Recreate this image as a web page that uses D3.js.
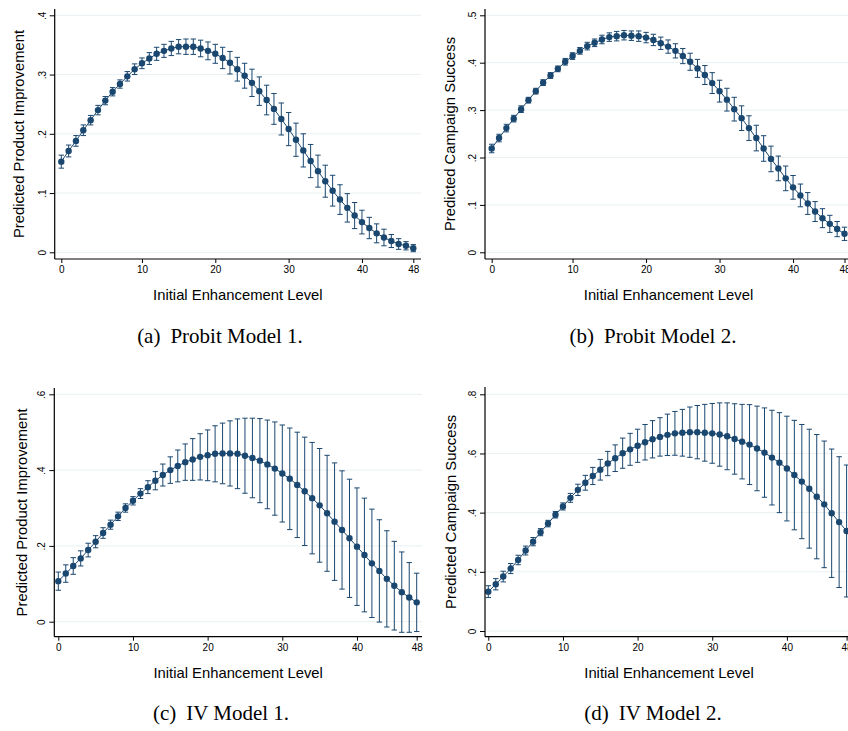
<!DOCTYPE html>
<html>
<head>
<meta charset="utf-8">
<script src="https://cdn.jsdelivr.net/npm/d3@7"></script>
<style>
  body { margin: 0; background: #fff; }
  svg { display: block; }
</style>
</head>
<body>
<svg id="chart" width="848" height="731"></svg>
<script>
// enhancement levels (x)
const levels = [0,1,2,3,4,5,6,7,8,9,10,11,12,13,14,15,16,17,18,19,20,21,22,23,24,
  25,26,27,28,29,30,31,32,33,34,35,36,37,38,39,40,41,42,43,44,45,46,47,48];

// (a) Probit Model 1 - predicted product improvement and CI half width
const probit1 = [.153,.171,.188,.206,.223,.240,.256,.271,.284,.297,.309,.319,.327,.335,.340,.344,.347,.347,.347,.344,
  .340,.335,.328,.320,.309,.298,.286,.272,.257,.242,.225,.208,.190,.172,.154,.137,.120,.104,.089,.075,
  .062,.051,.041,.032,.025,.019,.014,.011,.007];
const probit1Ci = [.011,.010,.009,.009,.008,.008,.007,.007,.007,.008,.009,.009,.010,.011,.011,.012,.012,.013,.013,.014,
  .015,.016,.018,.019,.020,.021,.023,.024,.025,.026,.027,.028,.028,.028,.028,.027,.027,.026,.025,.024,
  .022,.020,.018,.016,.014,.011,.009,.007,.006];

// (b) Probit Model 2 - predicted campaign success
const probit2 = [.219,.241,.262,.282,.302,.321,.340,.358,.373,.387,.402,.414,.425,.435,.442,.449,.454,.456,.458,.457,
  .456,.453,.448,.441,.434,.425,.414,.402,.388,.374,.357,.340,.322,.302,.283,.262,.241,.219,.197,.177,
  .156,.137,.120,.103,.086,.072,.060,.049,.039];
const probit2Ci = [.009,.008,.008,.007,.007,.006,.006,.006,.006,.006,.007,.007,.007,.008,.008,.009,.009,.010,.010,.010,
  .011,.011,.012,.013,.014,.015,.016,.018,.019,.020,.022,.023,.024,.025,.026,.026,.027,.027,.027,.026,
  .026,.025,.024,.023,.021,.020,.018,.016,.014];

// (c) IV Model 1 - predicted product improvement
const iv1 = [.107,.127,.147,.167,.189,.211,.234,.256,.278,.300,.319,.338,.355,.372,.387,.400,.411,.421,.428,.435,
  .439,.443,.444,.444,.443,.438,.432,.425,.415,.404,.391,.377,.361,.344,.326,.307,.286,.264,.242,.220,
  .198,.176,.154,.134,.113,.095,.078,.064,.051];
const iv1Ci = [.024,.023,.022,.020,.018,.016,.014,.012,.011,.011,.011,.013,.017,.024,.029,.035,.042,.048,.055,.061,
  .067,.074,.080,.086,.092,.099,.105,.111,.117,.123,.128,.134,.139,.143,.147,.150,.153,.155,.156,.156,
  .155,.150,.143,.135,.127,.117,.106,.092,.077];

// (d) IV Model 2 - predicted campaign success
const iv2 = [.133,.158,.184,.211,.240,.272,.302,.334,.363,.393,.421,.450,.477,.501,.524,.545,.566,.584,.601,.614,
  .626,.638,.648,.656,.663,.668,.670,.672,.672,.670,.668,.664,.658,.649,.640,.630,.617,.603,.586,.569,
  .549,.527,.505,.481,.454,.428,.398,.368,.338];
const iv2Ci = [.020,.019,.018,.017,.016,.015,.014,.012,.011,.011,.012,.015,.019,.025,.029,.035,.041,.045,.051,.054,
  .056,.060,.063,.065,.070,.074,.079,.085,.090,.096,.101,.107,.113,.119,.126,.135,.143,.151,.160,.169,
  .177,.185,.193,.201,.210,.214,.217,.221,.223];

// tick labels
const xTickLabels = [0, 10, 20, 30, 40, 48];
const xTickPosProbit = [0, 11, 21, 31, 41, 48];
const xTickPosIv = [0, 10, 20, 30, 40, 48];
const yTicksA = [0, .1, .2, .3, .4];
const yTicksB = [0, .1, .2, .3, .4, .5];
const yTicksC = [0, .2, .4, .6];
const yTicksD = [0, .2, .4, .6, .8];

const xTitle = "Initial Enhancement Level";
const captions = ["(a)", "(b)", "(c)", "(d)"];
const captionTexts = ["Probit Model 1.", "Probit Model 2.", "IV Model 1.", "IV Model 2."];

const navy = "#1a476f";
const gridColor = "#e9f0f2";
const sans = "'Liberation Sans', Arial, sans-serif";

const panels = [
  { values: probit1, ci: probit1Ci, yTicks: yTicksA, ymax: .4, xTicks: xTickPosProbit,
    ytitle: "Predicted Product Improvement",
    px: [61.3, 413.3], py: [252.3, 15.3], box: { l: 54.7, r: 421, t: 9, b: 259 },
    ytx: 19, capX: 220, capY: 343 },
  { values: probit2, ci: probit2Ci, yTicks: yTicksB, ymax: .5, xTicks: xTickPosProbit,
    ytitle: "Predicted Campaign Success",
    px: [491.7, 844.5], py: [252.3, 15.3], box: { l: 485, r: 852, t: 9, b: 259 },
    ytx: 449.5, capX: 653, capY: 343 },
  { values: iv1, ci: iv1Ci, yTicks: yTicksC, ymax: .6, xTicks: xTickPosIv,
    ytitle: "Predicted Product Improvement",
    px: [58.3, 416.7], py: [621.7, 394.3], box: { l: 54.3, r: 422, t: 388, b: 636.7 },
    ytx: 22, capX: 221, capY: 720 },
  { values: iv2, ci: iv2Ci, yTicks: yTicksD, ymax: .8, xTicks: xTickPosIv,
    ytitle: "Predicted Campaign Success",
    px: [488.3, 846.6], py: [631, 394.3], box: { l: 485, r: 853, t: 387, b: 636.7 },
    ytx: 450.5, capX: 653, capY: 720 }
];

const svg = d3.select("#chart");
const fmtY = d => d === 0 ? "0" : d3.format(".1f")(d).replace(/^0/, "");

panels.forEach((p, k) => {
  const x = d3.scaleLinear().domain([0, 48]).range(p.px);
  const y = d3.scaleLinear().domain([0, p.ymax]).range(p.py);
  const g = svg.append("g");
  const pts = levels.map((lv, i) => ({ lv, v: p.values[i], e: p.ci[i] }));

  // gridlines
  g.selectAll(".grid").data(p.yTicks).enter().append("line")
    .attr("x1", p.box.l).attr("x2", p.box.r)
    .attr("y1", d => y(d)).attr("y2", d => y(d))
    .attr("stroke", gridColor).attr("stroke-width", 1);

  // error bars
  const bars = g.append("g").attr("stroke", navy).attr("stroke-width", 1).attr("fill", "none");
  bars.selectAll(".bar").data(pts).enter().append("path")
    .attr("d", d => {
      const cx = x(d.lv), lo = y(d.v - d.e), hi = y(d.v + d.e), w = 2.7;
      return `M${cx},${lo}V${hi}M${cx - w},${hi}H${cx + w}M${cx - w},${lo}H${cx + w}`;
    });

  // connecting line
  g.append("path").datum(pts)
    .attr("d", d3.line().x(d => x(d.lv)).y(d => y(d.v)))
    .attr("fill", "none").attr("stroke", navy).attr("stroke-width", 1);

  // markers
  g.selectAll(".pt").data(pts).enter().append("circle")
    .attr("cx", d => x(d.lv)).attr("cy", d => y(d.v)).attr("r", 3.2)
    .attr("fill", navy);

  // axis lines
  g.append("line").attr("x1", p.box.l).attr("x2", p.box.l).attr("y1", p.box.t).attr("y2", p.box.b)
    .attr("stroke", "#000").attr("stroke-width", 1.2);
  g.append("line").attr("x1", p.box.l).attr("x2", p.box.r).attr("y1", p.box.b).attr("y2", p.box.b)
    .attr("stroke", "#000").attr("stroke-width", 1.2);

  // x axis
  const xa = g.append("g").attr("transform", `translate(0,${p.box.b})`)
    .call(d3.axisBottom(x).tickValues(p.xTicks).tickSize(4)
      .tickFormat((d, i) => xTickLabels[i]));
  xa.select(".domain").remove();
  xa.selectAll("text").attr("font-family", sans)
    .attr("font-size", 10).attr("fill", "#000").attr("y", 7);

  // y axis
  const ya = g.append("g").attr("transform", `translate(${p.box.l},0)`)
    .call(d3.axisLeft(y).tickValues(p.yTicks).tickSize(5).tickFormat(fmtY));
  ya.select(".domain").remove();
  ya.selectAll("text")
    .attr("x", null).attr("dy", "0.35em")
    .attr("transform", "translate(-12.5,0) rotate(-90)")
    .attr("text-anchor", "middle")
    .attr("font-family", sans)
    .attr("font-size", 10).attr("fill", "#000");

  // axis titles
  g.append("text")
    .attr("x", (p.box.l + p.box.r) / 2).attr("y", p.box.b + 41)
    .attr("text-anchor", "middle")
    .attr("font-family", sans).attr("font-size", 14.8)
    .text(xTitle);
  g.append("text")
    .attr("transform", `translate(${p.ytx},${(p.box.t + p.box.b) / 2}) rotate(-90)`)
    .attr("dy", "0.35em").attr("text-anchor", "middle")
    .attr("font-family", sans).attr("font-size", 14.8)
    .text(p.ytitle);

  // caption
  const cap = g.append("text")
    .attr("x", p.capX).attr("y", p.capY).attr("text-anchor", "middle")
    .attr("font-family", "'Liberation Serif', 'Times New Roman', serif").attr("font-size", 21);
  cap.append("tspan").text(captions[k]);
  cap.append("tspan").attr("dx", 10).text(captionTexts[k]);
});
</script>
</body>
</html>
